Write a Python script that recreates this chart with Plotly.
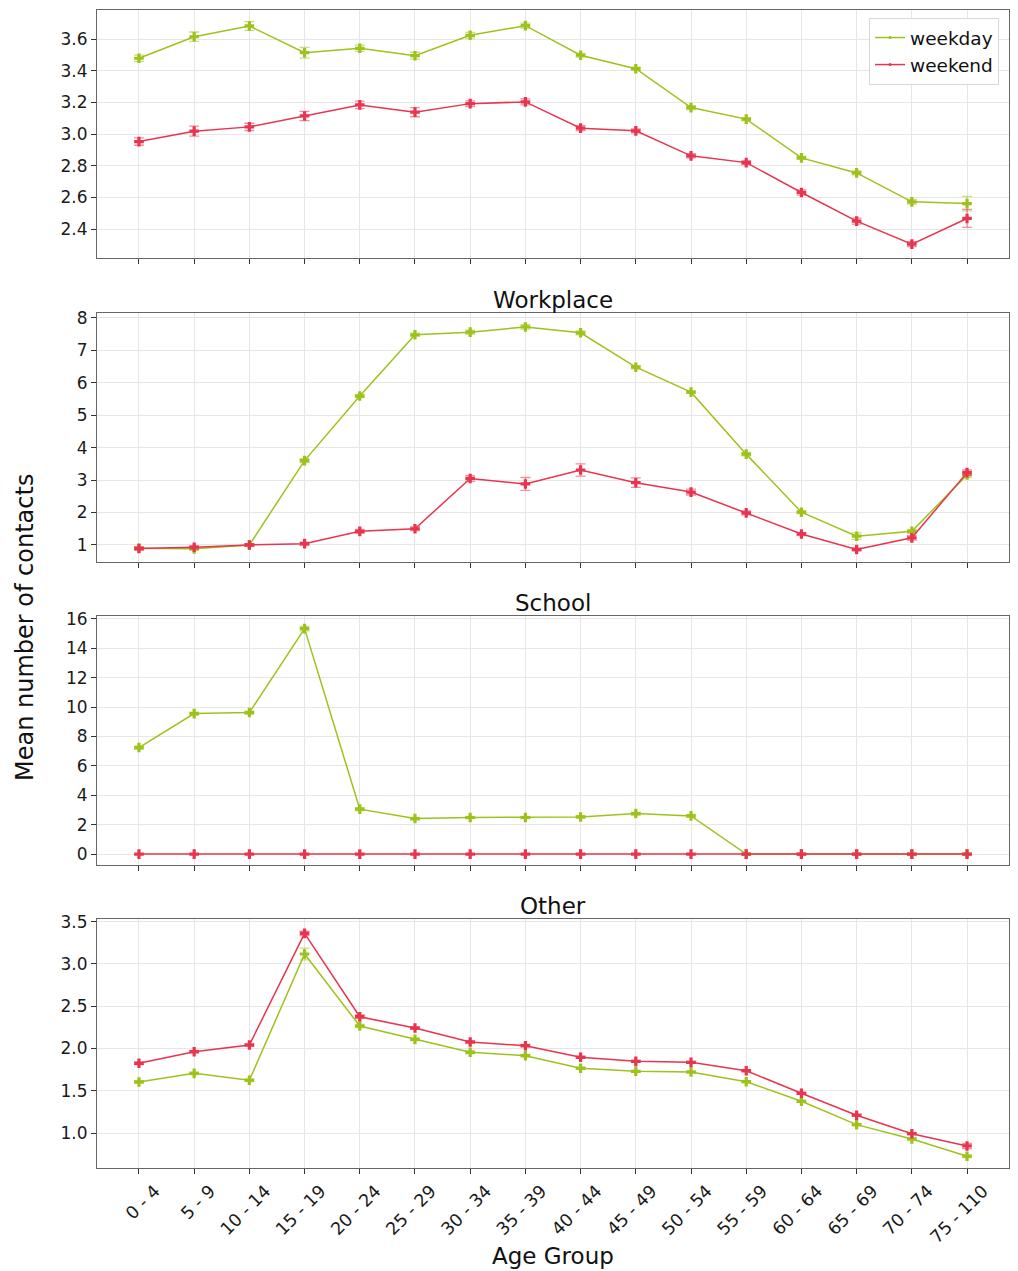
import plotly.graph_objects as go

# Age bands shared by every panel
age_groups = ["0 - 4", "5 - 9", "10 - 14", "15 - 19", "20 - 24", "25 - 29", "30 - 34",
              "35 - 39", "40 - 44", "45 - 49", "50 - 54", "55 - 59", "60 - 64",
              "65 - 69", "70 - 74", "75 - 110"]

# Total contacts (top panel)
all_weekday = [3.480, 3.616, 3.684, 3.515, 3.543, 3.496, 3.625, 3.686,
               3.499, 3.414, 3.168, 3.095, 2.850, 2.755, 2.572, 2.561]
all_weekday_err = [0.020, 0.030, 0.028, 0.034, 0.020, 0.022, 0.018, 0.016,
                   0.012, 0.010, 0.012, 0.010, 0.010, 0.012, 0.015, 0.046]
all_weekend = [2.953, 3.019, 3.046, 3.115, 3.185, 3.139, 3.193, 3.204,
               3.038, 3.021, 2.863, 2.820, 2.631, 2.450, 2.305, 2.467]
all_weekend_err = [0.023, 0.032, 0.023, 0.029, 0.024, 0.029, 0.018, 0.019,
                   0.016, 0.013, 0.013, 0.013, 0.016, 0.019, 0.016, 0.057]

# Workplace
work_weekday = [0.90, 0.88, 1.00, 3.60, 5.59, 7.48, 7.56, 7.72,
                7.54, 6.48, 5.71, 3.80, 2.01, 1.27, 1.42, 3.16]
work_weekday_err = [0.04, 0.04, 0.03, 0.06, 0.05, 0.05, 0.06, 0.07,
                    0.06, 0.05, 0.04, 0.05, 0.04, 0.10, 0.06, 0.08]
work_weekend = [0.89, 0.93, 1.00, 1.04, 1.42, 1.50, 3.05, 2.88,
                3.31, 2.92, 2.63, 1.99, 1.34, 0.86, 1.22, 3.23]
work_weekend_err = [0.05, 0.05, 0.04, 0.05, 0.06, 0.06, 0.09, 0.20,
                    0.19, 0.145, 0.09, 0.06, 0.05, 0.05, 0.07, 0.08]

# School
school_weekday = [7.25, 9.56, 9.63, 15.34, 3.06, 2.42, 2.49, 2.49,
                  2.53, 2.76, 2.60, 0.0, 0.0, 0.0, 0.0, 0.0]
school_weekday_err = [0.10, 0.10, 0.10, 0.15, 0.10, 0.08, 0.08, 0.08,
                      0.08, 0.10, 0.10, 0.0, 0.0, 0.0, 0.0, 0.0]
school_weekend = [0.0] * 16
school_weekend_err = [0.0] * 16

# Other
other_weekday = [1.604, 1.706, 1.624, 3.118, 2.266, 2.108, 1.955, 1.915,
                 1.766, 1.730, 1.722, 1.607, 1.375, 1.099, 0.929, 0.725]
other_weekday_err = [0.015, 0.015, 0.015, 0.070, 0.020, 0.015, 0.015, 0.015,
                     0.012, 0.012, 0.012, 0.012, 0.012, 0.012, 0.012, 0.015]
other_weekend = [1.825, 1.962, 2.041, 3.362, 2.376, 2.242, 2.077, 2.033,
                 1.896, 1.848, 1.836, 1.737, 1.470, 1.210, 0.992, 0.847]
other_weekend_err = [0.015, 0.015, 0.015, 0.025, 0.020, 0.015, 0.015, 0.015,
                     0.012, 0.012, 0.012, 0.012, 0.012, 0.012, 0.012, 0.030]

panel_titles = ["", "Workplace", "School", "Other"]
y_ranges = [[2.217, 3.785], [0.475, 8.15], [-0.74, 16.2], [0.586, 3.532]]
y_ticks = [[2.4, 2.6, 2.8, 3.0, 3.2, 3.4, 3.6],
           [1, 2, 3, 4, 5, 6, 7, 8],
           [0, 2, 4, 6, 8, 10, 12, 14, 16],
           [1.0, 1.5, 2.0, 2.5, 3.0, 3.5]]
y_tick_text = [["2.4", "2.6", "2.8", "3.0", "3.2", "3.4", "3.6"],
               ["1", "2", "3", "4", "5", "6", "7", "8"],
               ["0", "2", "4", "6", "8", "10", "12", "14", "16"],
               ["1.0", "1.5", "2.0", "2.5", "3.0", "3.5"]]

panels = [
    (all_weekday, all_weekday_err, all_weekend, all_weekend_err),
    (work_weekday, work_weekday_err, work_weekend, work_weekend_err),
    (school_weekday, school_weekday_err, school_weekend, school_weekend_err),
    (other_weekday, other_weekday_err, other_weekend, other_weekend_err),
]

GREEN = "#9dc31b"
RED = "#e8344f"
GREEN_ERR = "rgba(157,195,27,0.55)"
RED_ERR = "rgba(232,52,79,0.55)"
FONT = "DejaVu Sans"

# Pixel layout of the figure
W, H = 1018, 1271
L, R, T, B = 97, 9, 10, 103
plot_h = H - T - B
plot_w = W - L - R
panel_px = [(10, 258), (313, 562), (616, 865), (919, 1168)]


def py(y):
    """Convert a pixel row into paper coordinates."""
    return (H - B - y) / plot_h


def px(x):
    return (x - L) / plot_w


fig = go.Figure()

for i, (wd, wd_err, we, we_err) in enumerate(panels):
    ax = "" if i == 0 else str(i + 1)
    for vals, errs, name, col, ecol in ((wd, wd_err, "weekday", GREEN, GREEN_ERR),
                                        (we, we_err, "weekend", RED, RED_ERR)):
        fig.add_trace(go.Scatter(
            x=age_groups, y=vals, name=name, mode="lines+markers",
            line=dict(color=col, width=1.5),
            marker=dict(symbol="cross", size=8, color=col),
            error_y=dict(type="data", array=errs, visible=True,
                         color=ecol, thickness=1.3, width=5),
            xaxis="x" + ax, yaxis="y" + ax, showlegend=False,
        ))

# Legend keys: thin line with a small dot, as in the key box
for name, col in (("weekday", GREEN), ("weekend", RED)):
    fig.add_trace(go.Scatter(
        x=[None], y=[None], name=name, mode="lines+markers",
        line=dict(color=col, width=1.5),
        marker=dict(symbol="circle", size=3, color=col),
        xaxis="x", yaxis="y", showlegend=True,
    ))

layout = dict(
    width=W, height=H,
    margin=dict(l=L, r=R, t=T, b=B, pad=0, autoexpand=False),
    paper_bgcolor="white", plot_bgcolor="white",
    font=dict(family=FONT, size=17, color="#1a1a1a"),
    legend=dict(x=px(999), y=py(18), xanchor="right", yanchor="top",
                bgcolor="rgba(255,255,255,0.85)", bordercolor="#d8d8d8",
                borderwidth=1, tracegroupgap=0,
                font=dict(size=18.5, family=FONT, color="#111111")),
    annotations=[],
)

for i in range(4):
    ax = "" if i == 0 else str(i + 1)
    top, bot = panel_px[i]
    bottom_panel = i == 3
    layout["xaxis" + ax] = dict(
        domain=[0, 1], anchor="y" + ax, type="category",
        categoryorder="array", categoryarray=age_groups,
        range=[-0.76, 15.76], automargin=False,
        showgrid=True, gridcolor="#e6e6e6", gridwidth=1,
        showline=True, mirror=True, linecolor="#666666", linewidth=1,
        ticks="outside", ticklen=5, tickcolor="#333333",
        showticklabels=bottom_panel, tickangle=-45,
        tickfont=dict(size=17.5, family=FONT),
        ticklabelshift=16 if bottom_panel else 0,
        zeroline=False,
    )
    if i > 0:
        layout["xaxis" + ax]["matches"] = "x"
    layout["yaxis" + ax] = dict(
        domain=[py(bot), py(top)], anchor="x" + ax,
        range=y_ranges[i], tickvals=y_ticks[i], ticktext=y_tick_text[i],
        automargin=False,
        showgrid=True, gridcolor="#e6e6e6", gridwidth=1,
        showline=True, mirror=True, linecolor="#666666", linewidth=1,
        ticks="outside", ticklen=5, tickcolor="#333333",
        tickfont=dict(size=17, family=FONT), zeroline=False,
    )
    if panel_titles[i]:
        layout["annotations"].append(dict(
            text=panel_titles[i], xref="paper", yref="paper",
            x=0.5, y=py(top - 13), xanchor="center", yanchor="middle",
            showarrow=False, font=dict(size=23, family=FONT, color="#111111"),
        ))

layout["annotations"].append(dict(
    text="Mean number of contacts", xref="paper", yref="paper",
    x=px(25), y=py(628), xanchor="center", yanchor="middle", textangle=-90,
    showarrow=False, font=dict(size=24, family=FONT, color="#111111"),
))
layout["annotations"].append(dict(
    text="Age Group", xref="paper", yref="paper",
    x=0.5, y=py(1256), xanchor="center", yanchor="middle",
    showarrow=False, font=dict(size=23, family=FONT, color="#111111"),
))

fig.update_layout(**layout)
fig.write_html("out.html")
